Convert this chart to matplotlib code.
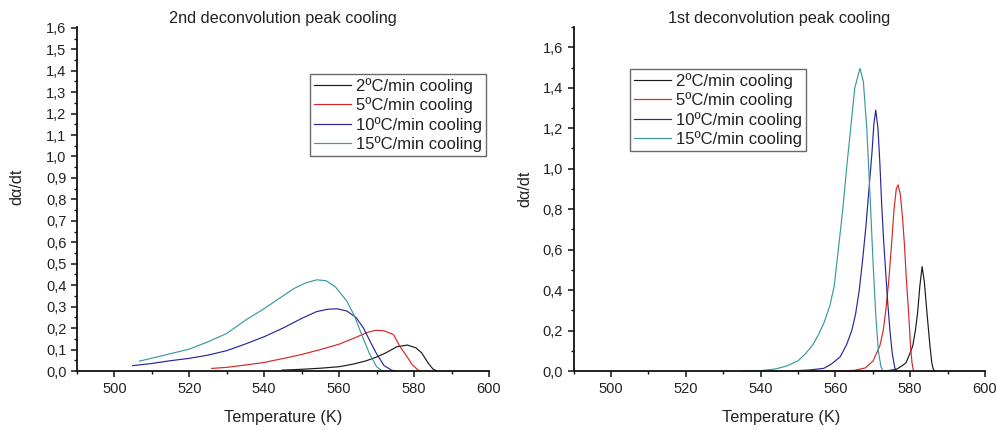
import matplotlib
matplotlib.use("Agg")
import matplotlib.pyplot as plt
from matplotlib.ticker import MultipleLocator, FuncFormatter

plt.rcParams['font.family'] = ['Liberation Sans', 'DejaVu Sans']

labels = ['2ºC/min cooling', '5ºC/min cooling', '10ºC/min cooling', '15ºC/min cooling']
colors = ['#1a1a1a', '#d92525', '#27279a', '#3a9a9a']

# 2nd deconvolution peak (temperature in K, dα/dt)
t2_2 = [544.7, 550, 555, 560, 564, 567.3, 570, 572.5, 575.4, 578.2, 580.5, 582, 583.8, 585, 586]
y2_2 = [0.004, 0.008, 0.013, 0.02, 0.033, 0.048, 0.065, 0.085, 0.113, 0.121, 0.108, 0.085, 0.036, 0.01, 0.0]
t2_5 = [526, 530, 535, 540, 545, 550, 555, 560, 564.5, 567.5, 569.8, 572, 574.5, 576.2, 578, 579.5, 581, 581.8]
y2_5 = [0.012, 0.017, 0.028, 0.04, 0.058, 0.077, 0.1, 0.125, 0.157, 0.18, 0.19, 0.187, 0.17, 0.115, 0.07, 0.03, 0.005, 0.0]
t2_10 = [504.9, 510, 515, 520, 525, 530, 535, 540, 545, 550, 554, 557, 559.5, 562, 564.5, 566.5, 568.5, 570, 572, 574, 575]
y2_10 = [0.025, 0.035, 0.048, 0.059, 0.074, 0.095, 0.126, 0.16, 0.2, 0.245, 0.277, 0.288, 0.29, 0.28, 0.25, 0.2, 0.13, 0.08, 0.025, 0.004, 0.0]
t2_15 = [506.7, 512, 516, 520, 525, 530, 535, 540, 545, 548, 551, 554, 556.5, 559, 562, 564, 566, 568, 570, 571.5]
y2_15 = [0.046, 0.068, 0.085, 0.102, 0.136, 0.175, 0.237, 0.291, 0.35, 0.385, 0.41, 0.425, 0.421, 0.392, 0.327, 0.26, 0.17, 0.085, 0.02, 0.0]

# 1st deconvolution peak
t1_2 = [560, 570, 574, 576.3, 577.8, 578.9, 579.8, 580.7, 581.4, 582, 582.6, 583.2, 583.8, 584.5, 585.3, 585.8, 586.2, 586.6]
y1_2 = [0.0, 0.0, 0.002, 0.008, 0.025, 0.041, 0.08, 0.124, 0.2, 0.288, 0.42, 0.516, 0.44, 0.288, 0.124, 0.04, 0.008, 0.0]
t1_5 = [550, 560, 565, 568, 570.1, 571.9, 572.8, 573.5, 574.3, 575, 575.7, 576.3, 576.8, 577.4, 578, 578.5, 579, 579.6, 580.1, 580.5, 580.9]
y1_5 = [0.0, 0.0, 0.003, 0.015, 0.05, 0.124, 0.2, 0.3, 0.45, 0.618, 0.8, 0.9, 0.92, 0.87, 0.75, 0.618, 0.45, 0.288, 0.124, 0.04, 0.0]
t1_10 = [540, 548, 553, 556.9, 559, 561.3, 563, 564.4, 565.4, 566.4, 567.3, 568.2, 569, 569.8, 570.3, 570.8,
         571.4, 571.9, 572.4, 572.9, 573.5, 574, 574.6, 575.2, 575.9, 576.5]
y1_10 = [0.0, 0.0, 0.005, 0.013, 0.035, 0.07, 0.13, 0.2, 0.28, 0.4, 0.55, 0.72, 0.9, 1.08, 1.22, 1.29,
         1.2, 1.03, 0.82, 0.65, 0.48, 0.34, 0.2, 0.09, 0.015, 0.0]
t1_15 = [535, 540, 544, 547, 550, 552, 554, 555.5, 557, 558.5, 559.7, 560.8, 562, 563, 564.1, 565.2, 566.6,
         567.5, 568.4, 569.3, 570.1, 570.8, 571.5, 572.2, 572.8]
y1_15 = [0.0, 0.002, 0.01, 0.025, 0.05, 0.085, 0.13, 0.18, 0.24, 0.32, 0.42, 0.6, 0.8, 1.0, 1.2, 1.4, 1.496,
         1.43, 1.2, 0.86, 0.53, 0.28, 0.1, 0.02, 0.0]

peak2 = [(t2_2, y2_2), (t2_5, y2_5), (t2_10, y2_10), (t2_15, y2_15)]
peak1 = [(t1_2, y1_2), (t1_5, y1_5), (t1_10, y1_10), (t1_15, y1_15)]

comma = FuncFormatter(lambda v, pos: f"{v:.1f}".replace('.', ','))

fig = plt.figure(figsize=(9.98, 4.30), dpi=100)
ax_l = fig.add_axes([0.077, 0.1372, 0.413, 0.8007])
ax_r = fig.add_axes([0.5747, 0.1372, 0.4122, 0.7998])


def style_axes(ax, title, ymax, ymajor, yminor):
    for side in ('top', 'right'):
        ax.spines[side].set_visible(False)
    for side in ('left', 'bottom'):
        ax.spines[side].set_linewidth(1.3)
        ax.spines[side].set_color('#111111')
    ax.set_xlim(490, 600)
    ax.set_ylim(0, ymax)
    ax.xaxis.set_major_locator(MultipleLocator(20))
    ax.xaxis.set_minor_locator(MultipleLocator(10))
    ax.yaxis.set_major_locator(MultipleLocator(ymajor))
    ax.yaxis.set_minor_locator(MultipleLocator(yminor))
    ax.yaxis.set_major_formatter(comma)
    ax.tick_params(which='major', direction='out', length=4.5, width=1.1, labelsize=10.5,
                   colors='#111111', labelcolor='#222222')
    ax.tick_params(which='minor', direction='out', length=2.5, width=1.0, colors='#111111')
    ax.tick_params(axis='x', pad=3.5)
    ax.tick_params(axis='y', pad=3)
    ax.set_title(title, fontsize=11.7, pad=3, color='#222222')
    ax.set_xlabel('Temperature (K)', fontsize=11.7, color='#222222')
    ax.set_ylabel('dα/dt', fontsize=11.7, color='#222222')
    ax.xaxis.label.set_va('center')
    ax.yaxis.label.set_va('center')


style_axes(ax_l, '2nd deconvolution peak cooling', 1.605, 0.1, 0.05)
style_axes(ax_r, '1st deconvolution peak cooling', 1.7, 0.2, 0.1)
ax_l.xaxis.set_label_coords(0.5, -0.134)
ax_l.yaxis.set_label_coords(-0.146, 0.535)
ax_r.xaxis.set_label_coords(0.505, -0.134)
ax_r.yaxis.set_label_coords(-0.118, 0.53)

for (t, y), c, lab in zip(peak2, colors, labels):
    ax_l.plot(t, y, color=c, lw=0.85, label=lab, clip_on=False)
for (t, y), c, lab in zip(peak1, colors, labels):
    ax_r.plot(t, y, color=c, lw=0.85, label=lab, clip_on=False)

for ax, anchor in ((ax_l, (0.3106, 0.828)), (ax_r, (0.631, 0.8395))):
    leg = ax.legend(loc='upper left', bbox_to_anchor=anchor, bbox_transform=fig.transFigure,
                    fontsize=12, frameon=True, fancybox=False, borderaxespad=0,
                    handlelength=2.2, handletextpad=0.3, labelspacing=0.2,
                    borderpad=0.25)
    leg.get_frame().set_edgecolor('#444444')
    leg.get_frame().set_linewidth(1.0)
    for txt in leg.get_texts():
        txt.set_color('#222222')

fig.savefig('out.png', dpi=100)
